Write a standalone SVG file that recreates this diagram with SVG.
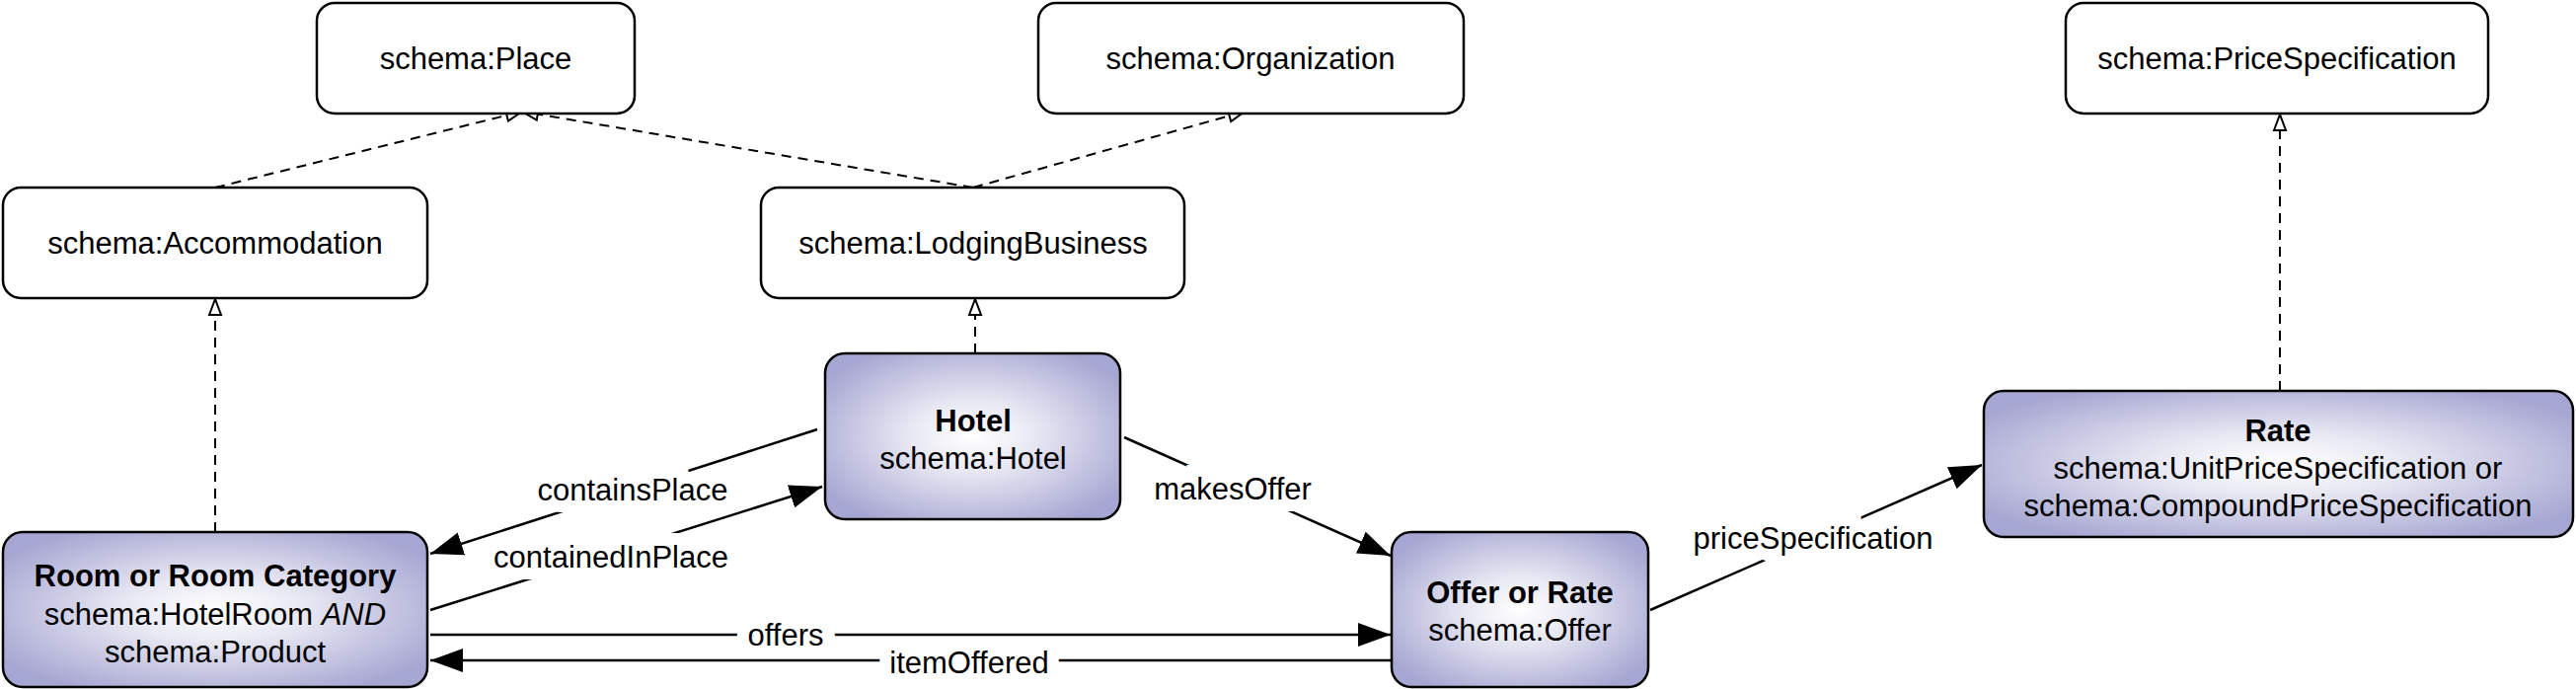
<svg xmlns="http://www.w3.org/2000/svg" width="2610" height="698" viewBox="0 0 2610 698">
<style>
.n rect{stroke:#000;stroke-width:2.5}
.w rect{fill:#fff}
.c rect{fill:url(#g)}
text{font-family:"Liberation Sans",Arial,sans-serif;font-size:31px;text-anchor:middle;fill:#000}
.b{font-weight:bold}
.lbl{paint-order:stroke;stroke:#fff;stroke-width:24px}
.d{fill:none;stroke:#000;stroke-width:2;stroke-dasharray:10,7;marker-end:url(#h)}
.s{fill:none;stroke:#000;stroke-width:2.5;marker-end:url(#a)}
</style>
<defs>
<radialGradient id="g" cx="50%" cy="50%" r="60%"><stop offset="0" stop-color="#ffffff"/><stop offset="0.35" stop-color="#e8e8f3"/><stop offset="1" stop-color="#a6a6d2"/></radialGradient>
<marker id="h" markerUnits="userSpaceOnUse" markerWidth="20" markerHeight="20" viewBox="0 0 20 20" refX="18" refY="10" orient="auto"><path d="M2,4 L18,10 L2,16 Z" fill="#fff" stroke="#000" stroke-width="2"/></marker>
<marker id="a" markerUnits="userSpaceOnUse" markerWidth="34" markerHeight="30" viewBox="0 0 34 30" refX="33" refY="15" orient="auto"><path d="M0,3 L33,15 L0,27 Z" fill="#000"/></marker>
</defs>
<g id="connectors">
<path class="d" d="M218,190 L529,113"/>
<path class="d" d="M986,190 L529,113"/>
<path class="d" d="M986,190 L1261,113"/>
<path class="d" d="M988,358 L988,303"/>
<path class="d" d="M218,539 L218,303"/>
<path class="d" d="M2310,396 L2310,116"/>
<path class="s" d="M828,435 L436,561"/>
<path class="s" d="M436,618 L833,493"/>
<path class="s" d="M1139,443 L1409,563"/>
<path class="s" d="M1672,618 L2008,471"/>
<path class="s" d="M436,643 L1409,643"/>
<path class="s" d="M1409,669 L436,669"/>
<text class="lbl" x="641" y="507">containsPlace</text>
<text class="lbl" x="619" y="575">containedInPlace</text>
<text class="lbl" x="1249" y="506">makesOffer</text>
<text class="lbl" x="1837" y="556">priceSpecification</text>
<text class="lbl" x="796" y="654">offers</text>
<text class="lbl" x="982" y="682">itemOffered</text>
</g>
<g id="place" class="n w"><rect x="321" y="3" width="322" height="112" rx="18"/><text x="482" y="70">schema:Place</text></g>
<g id="organization" class="n w"><rect x="1052" y="3" width="431" height="112" rx="18"/><text x="1267" y="70">schema:Organization</text></g>
<g id="pricespec" class="n w"><rect x="2093" y="3" width="428" height="112" rx="18"/><text x="2307" y="70">schema:PriceSpecification</text></g>
<g id="accommodation" class="n w"><rect x="3" y="190" width="430" height="112" rx="18"/><text x="218" y="257">schema:Accommodation</text></g>
<g id="lodging" class="n w"><rect x="771" y="190" width="429" height="112" rx="18"/><text x="986" y="257">schema:LodgingBusiness</text></g>
<g id="hotel" class="n c"><rect x="836" y="358" width="299" height="168" rx="20"/><text class="b" x="986" y="437">Hotel</text><text x="986" y="475">schema:Hotel</text></g>
<g id="rate" class="n c"><rect x="2010" y="396" width="597" height="148" rx="20"/><text class="b" x="2308" y="447">Rate</text><text x="2308" y="485">schema:UnitPriceSpecification or</text><text x="2308" y="523">schema:CompoundPriceSpecification</text></g>
<g id="room" class="n c"><rect x="3" y="539" width="430" height="157" rx="20"/><text class="b" x="218" y="594">Room or Room Category</text><text x="218" y="633">schema:HotelRoom <tspan font-style="italic">AND</tspan></text><text x="218" y="671">schema:Product</text></g>
<g id="offer" class="n c"><rect x="1410" y="539" width="260" height="157" rx="20"/><text class="b" x="1540" y="611">Offer or Rate</text><text x="1540" y="649">schema:Offer</text></g>
</svg>
